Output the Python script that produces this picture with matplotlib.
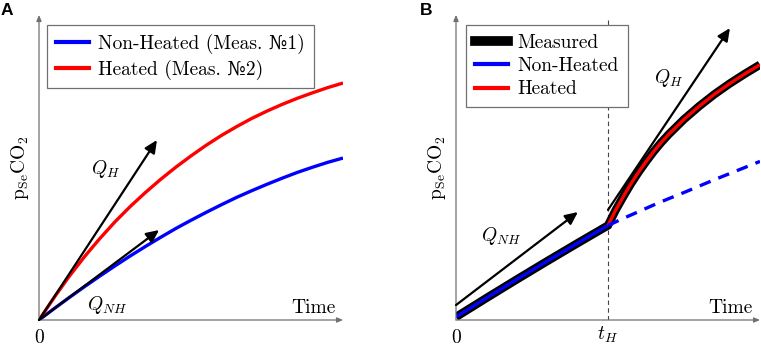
import matplotlib
matplotlib.use("Agg")
import matplotlib.pyplot as plt
from matplotlib.lines import Line2D

plt.rcParams['font.family'] = ['cmr10', 'DejaVu Serif']
plt.rcParams['mathtext.fontset'] = 'cm'
plt.rcParams['axes.unicode_minus'] = False

# panel A: two independent measurements
t_a = [0, 0.5, 1, 1.5, 2, 2.5, 3, 3.5, 4, 4.5, 5, 5.5, 6, 6.5, 7, 7.5, 8, 8.5, 9, 9.5, 10]
heated_a = [0, 0.74, 1.44, 2.08, 2.67, 3.22, 3.72, 4.18, 4.61, 5.01, 5.38,
            5.73, 6.05, 6.34, 6.61, 6.85, 7.07, 7.27, 7.45, 7.62, 7.77]
nonheated_a = [0, 0.375, 0.74, 1.095, 1.44, 1.775, 2.1, 2.41, 2.71, 3.0, 3.27,
               3.53, 3.78, 4.02, 4.24, 4.45, 4.65, 4.84, 5.01, 5.17, 5.31]
qh_a = (3.88, 5.9)
qnh_a = (3.95, 2.95)

# panel B: one measurement, heating switched on at t_H
t_h = 5.0
t_b1 = [0, 1, 2, 3, 4, 5]
nonheated_b = [0.1, 0.72, 1.33, 1.93, 2.52, 3.1]
t_b2 = [5, 5.25, 5.5, 5.75, 6, 6.25, 6.5, 6.75, 7, 7.5, 8, 8.5, 9, 9.5, 10]
heated_b = [3.1, 3.6, 4.04, 4.46, 4.84, 5.19, 5.52, 5.82, 6.09, 6.58, 7.01,
            7.4, 7.75, 8.07, 8.37]
t_b3 = [5, 5.5, 6, 6.5, 7, 7.5, 8, 8.5, 9, 9.5, 10]
extrap_b = [3.1, 3.33, 3.55, 3.77, 3.98, 4.18, 4.39, 4.6, 4.8, 5.0, 5.2]
qnh_b = ((0, 0.49), (4.01, 3.54))
qh_b = ((5.0, 3.61), (9.01, 9.57))

W, H = 761, 347
fig = plt.figure(figsize=(W / 100, H / 100), dpi=100)
axis_col = '#707070'
fs = 14


def make_axes(x0):
    ax = fig.add_axes([x0 / W, 27 / H, 304 / W, 305 / H])
    ax.set_xlim(0, 10)
    ax.set_ylim(0, 10)
    for s in ax.spines.values():
        s.set_visible(False)
    ax.set_xticks([])
    ax.set_yticks([])
    ax.patch.set_alpha(0)
    arr = dict(arrowstyle='-|>,head_length=0.35,head_width=0.15', color=axis_col,
               lw=0.9, shrinkA=0, shrinkB=0)
    ax.annotate('', xy=(1.0, 0), xytext=(0, 0), xycoords='axes fraction', arrowprops=arr,
                annotation_clip=False)
    ax.annotate('', xy=(0, 1.0), xytext=(0, 0), xycoords='axes fraction', arrowprops=arr,
                annotation_clip=False)
    ax.set_ylabel(r'$\mathrm{p_{Se}CO_2}$', fontsize=fs, labelpad=6)
    ax.text(9.74, 0.23, 'Time', fontsize=fs, ha='right', va='baseline')
    ax.text(0, -0.58, '0', fontsize=fs, ha='center', va='center')
    return ax


def vec(ax, start, end):
    ax.annotate('', xy=end, xytext=start,
                arrowprops=dict(arrowstyle='-|>,head_length=0.75,head_width=0.35',
                                color='black', lw=1.6, shrinkA=0, shrinkB=0))


def style_legend(leg):
    leg.get_frame().set_edgecolor(axis_col)
    leg.get_frame().set_linewidth(0.9)


leg_kw = dict(loc='upper left', borderaxespad=0, fontsize=fs, handlelength=1.7,
              handletextpad=0.5, labelspacing=0.28, borderpad=0.45, fancybox=False,
              framealpha=1)

# ---- panel A
axA = make_axes(39)
axA.plot(t_a, nonheated_a, color='#0000ff', lw=2.4, solid_capstyle='butt')
axA.plot(t_a, heated_a, color='#ff0000', lw=2.4, solid_capstyle='butt')
vec(axA, (0, 0), qh_a)
vec(axA, (0, 0), qnh_a)
axA.text(2.2, 4.95, r'$Q_H$', fontsize=fs, ha='center', va='center')
axA.text(2.24, 0.49, r'$Q_{NH}$', fontsize=fs, ha='center', va='center')
hA = [Line2D([], [], color='#0000ff', lw=3),
      Line2D([], [], color='#ff0000', lw=3)]
legA = axA.legend(hA, ['Non-Heated (Meas. №1)', 'Heated (Meas. №2)'],
                  bbox_to_anchor=(0.026, 0.967), **leg_kw)
style_legend(legA)
fig.text(1 / W, 1 - 3 / H, 'A', fontsize=12.5, fontweight='bold', family='Liberation Sans',
         ha='left', va='top')

# ---- panel B
axB = make_axes(456)
axB.plot([t_h, t_h], [0, 9.95], color='#444444', lw=0.8, ls=(0, (4, 3)))
axB.plot(t_b1 + t_b2[1:], nonheated_b + heated_b[1:], color='black', lw=6,
         solid_capstyle='butt', solid_joinstyle='miter')
axB.plot(t_b1, nonheated_b, color='#0000ff', lw=2.4, solid_capstyle='butt')
axB.plot(t_b2, heated_b, color='#ff0000', lw=2.4, solid_capstyle='butt')
axB.plot(t_b3, extrap_b, color='#0000ff', lw=2.4, ls=(0, (3.5, 2.5)))
vec(axB, *qnh_b)
vec(axB, *qh_b)
axB.text(1.48, 2.75, r'$Q_{NH}$', fontsize=fs, ha='center', va='center')
axB.text(7.0, 7.93, r'$Q_H$', fontsize=fs, ha='center', va='center')
axB.text(t_h, -0.5, r'$t_H$', fontsize=fs, ha='center', va='center')
hB = [Line2D([], [], color='black', lw=7),
      Line2D([], [], color='#0000ff', lw=3),
      Line2D([], [], color='#ff0000', lw=3)]
legB = axB.legend(hB, ['Measured', 'Non-Heated', 'Heated'],
                  bbox_to_anchor=(0.033, 0.967), **leg_kw)
style_legend(legB)
fig.text(420 / W, 1 - 3 / H, 'B', fontsize=12.5, fontweight='bold', family='Liberation Sans',
         ha='left', va='top')

fig.savefig('out.png', dpi=100)
